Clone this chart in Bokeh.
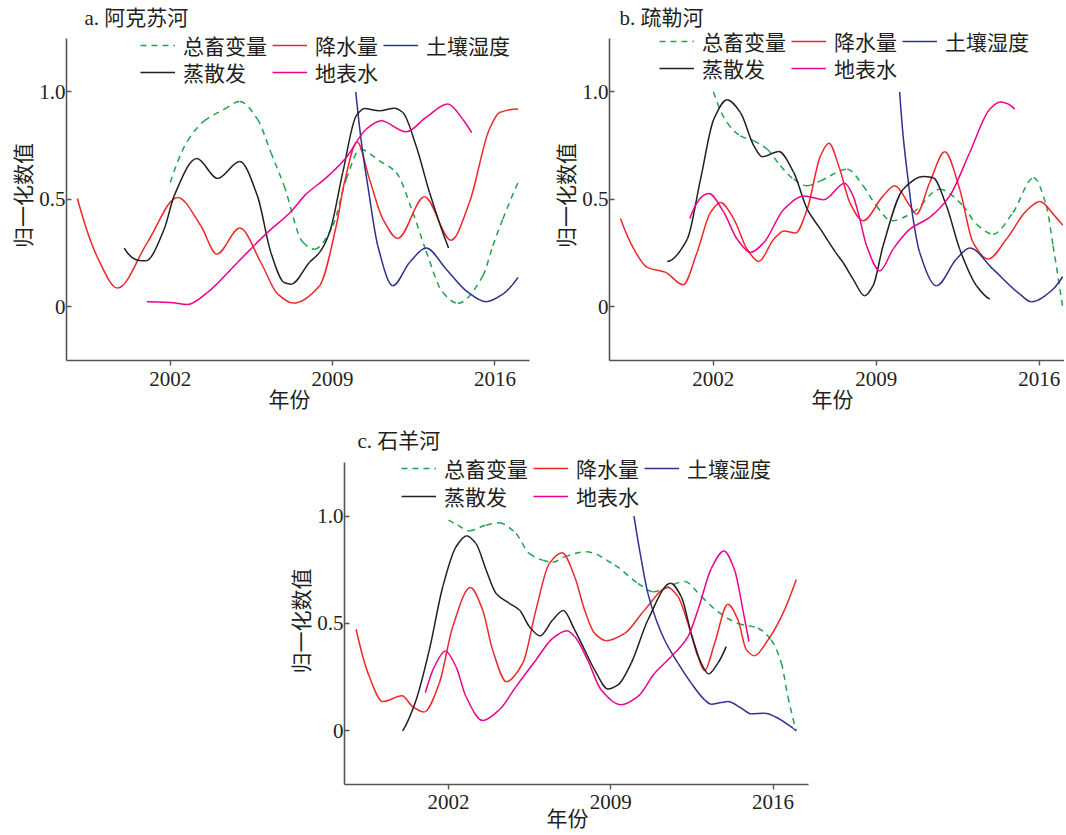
import numpy as np
from bokeh.plotting import figure
from bokeh.models import Range1d, FixedTicker, Legend, LegendItem, ColumnDataSource, Title, Spacer
from bokeh.layouts import row, column
from bokeh.embed import file_html
from bokeh.resources import INLINE

# ---------------- data ----------------
SERIES = ["总畜变量", "降水量", "土壤湿度", "蒸散发", "地表水"]
X_TICKS = [2002, 2009, 2016]
Y_TICKS = [0, 0.5, 1.0]
Y_TICK_LABELS = {0: "0", 0.5: "0.5", 1: "1.0"}
TITLES = ["a. 阿克苏河", "b. 疏勒河", "c. 石羊河"]
X_LABEL = "年份"
Y_LABEL = "归一化数值"

# panel a
a_liv_x = [2002.0, 2002.75, 2003.47, 2004.33, 2005.0, 2005.76, 2006.34, 2006.91, 2007.72, 2008.22, 2009.01, 2009.59, 2010.2, 2011.0, 2011.74, 2012.46, 2013.03, 2013.75, 2014.4, 2015.48, 2015.91, 2016.34, 2017.0]
a_liv_y = [0.578, 0.772, 0.865, 0.919, 0.955, 0.873, 0.718, 0.563, 0.30, 0.268, 0.377, 0.594, 0.733, 0.68, 0.625, 0.439, 0.26, 0.067, 0.016, 0.144, 0.284, 0.408, 0.58]
a_pre_x = [1998.0, 1998.87, 1999.73, 2001.02, 2002.32, 2003.32, 2004.01, 2005.0, 2005.91, 2006.63, 2007.3, 2008.44, 2009.16, 2009.51, 2010.06, 2010.59, 2011.17, 2011.81, 2012.96, 2014.11, 2014.9, 2015.76, 2016.2, 2017.0]
a_pre_y = [0.504, 0.229, 0.087, 0.30, 0.509, 0.377, 0.245, 0.366, 0.206, 0.06, 0.017, 0.098, 0.377, 0.578, 0.767, 0.594, 0.408, 0.318, 0.512, 0.31, 0.485, 0.826, 0.904, 0.92]
a_soil_x = [2010.0, 2010.3, 2010.52, 2010.95, 2011.6, 2012.32, 2013.03, 2013.9, 2014.76, 2015.62, 2016.34, 2017.0]
a_soil_y = [1.0, 0.718, 0.563, 0.284, 0.098, 0.206, 0.273, 0.175, 0.074, 0.023, 0.059, 0.137]
a_et_x = [2000.02, 2000.95, 2001.74, 2002.17, 2003.15, 2004.04, 2005.0, 2005.76, 2006.34, 2006.91, 2007.22, 2008.0, 2008.44, 2008.87, 2009.44, 2010.02, 2010.38, 2011.02, 2011.67, 2012.03, 2012.6, 2013.18, 2014.0]
a_et_y = [0.273, 0.214, 0.361, 0.516, 0.69, 0.597, 0.676, 0.516, 0.253, 0.113, 0.105, 0.206, 0.253, 0.346, 0.625, 0.888, 0.922, 0.912, 0.924, 0.904, 0.749, 0.532, 0.273]
a_sw_x = [2001.0, 2002.0, 2002.75, 2003.61, 2004.9, 2006.2, 2007.17, 2007.86, 2008.72, 2009.59, 2010.45, 2011.09, 2012.17, 2013.03, 2013.97, 2014.61, 2015.0]
a_sw_y = [0.023, 0.02, 0.011, 0.067, 0.206, 0.346, 0.439, 0.524, 0.60, 0.695, 0.826, 0.865, 0.814, 0.881, 0.943, 0.873, 0.81]

# panel b
b_liv_x = [2002.0, 2002.59, 2003.16, 2003.73, 2004.31, 2004.88, 2005.45, 2006.03, 2006.6, 2007.75, 2008.43, 2009.0, 2009.65, 2010.58, 2011.72, 2012.72, 2013.3, 2014.01, 2014.87, 2015.75, 2016.3, 2016.59, 2017.0]
b_liv_y = [1.0, 0.857, 0.795, 0.772, 0.733, 0.656, 0.594, 0.563, 0.586, 0.64, 0.563, 0.47, 0.40, 0.439, 0.547, 0.47, 0.384, 0.338, 0.439, 0.60, 0.47, 0.284, 0.0]
b_pre_x = [1998.01, 1998.59, 1999.16, 1999.95, 2000.7, 2001.3, 2001.88, 2002.31, 2002.88, 2003.45, 2003.95, 2004.6, 2005.03, 2005.53, 2006.03, 2006.6, 2006.96, 2007.43, 2007.86, 2008.43, 2009.29, 2009.79, 2010.44, 2010.72, 2011.29, 2011.94, 2012.58, 2013.15, 2013.8, 2014.59, 2015.44, 2016.02, 2016.66, 2017.0]
b_pre_y = [0.411, 0.268, 0.183, 0.16, 0.102, 0.253, 0.439, 0.485, 0.408, 0.268, 0.211, 0.315, 0.353, 0.343, 0.454, 0.702, 0.761, 0.64, 0.485, 0.40, 0.516, 0.563, 0.47, 0.431, 0.578, 0.721, 0.547, 0.30, 0.222, 0.315, 0.446, 0.49, 0.423, 0.38]
b_soil_x = [2010.0, 2010.15, 2010.36, 2010.58, 2010.86, 2011.58, 2012.44, 2013.01, 2014.01, 2015.16, 2015.66, 2016.59, 2017.0]
b_soil_y = [1.0, 0.795, 0.594, 0.408, 0.253, 0.098, 0.222, 0.273, 0.175, 0.059, 0.023, 0.082, 0.14]
b_et_x = [2000.02, 2000.88, 2001.45, 2002.02, 2002.59, 2003.16, 2003.74, 2004.1, 2004.81, 2005.45, 2006.03, 2006.6, 2007.25, 2007.57, 2008.0, 2008.5, 2008.86, 2009.29, 2010.15, 2011.0, 2011.44, 2012.01, 2012.58, 2013.3, 2013.87]
b_et_y = [0.211, 0.315, 0.594, 0.873, 0.963, 0.904, 0.749, 0.698, 0.722, 0.625, 0.454, 0.361, 0.253, 0.206, 0.129, 0.051, 0.098, 0.284, 0.547, 0.606, 0.60, 0.47, 0.268, 0.098, 0.036]
b_sw_x = [2000.99, 2001.81, 2002.45, 2003.02, 2003.6, 2004.17, 2005.03, 2005.89, 2006.74, 2007.64, 2008.0, 2008.29, 2008.58, 2009.15, 2009.72, 2010.44, 2011.29, 2012.15, 2013.01, 2013.87, 2014.3, 2014.94]
b_sw_y = [0.411, 0.527, 0.439, 0.315, 0.253, 0.299, 0.454, 0.516, 0.498, 0.575, 0.516, 0.408, 0.284, 0.167, 0.268, 0.361, 0.416, 0.516, 0.718, 0.919, 0.953, 0.919]

# panel c
c_liv_x = [2002.0, 2002.39, 2002.89, 2003.62, 2004.19, 2004.91, 2005.48, 2006.06, 2006.49, 2007.0, 2007.94, 2009.17, 2010.17, 2010.82, 2012.19, 2012.91, 2013.62, 2014.49, 2015.35, 2015.92, 2016.36, 2016.64, 2017.0]
c_liv_y = [0.981, 0.958, 0.932, 0.958, 0.969, 0.919, 0.826, 0.795, 0.785, 0.81, 0.834, 0.772, 0.687, 0.648, 0.695, 0.625, 0.555, 0.50, 0.478, 0.423, 0.315, 0.16, 0.0]
c_pre_x = [1998.01, 1998.58, 1999.16, 1999.99, 2000.45, 2000.95, 2001.6, 2002.18, 2002.94, 2003.47, 2003.9, 2004.5, 2005.2, 2005.77, 2006.35, 2006.9, 2007.44, 2007.87, 2008.3, 2008.81, 2009.6, 2010.46, 2011.47, 2011.9, 2012.33, 2012.76, 2013.05, 2013.48, 2014.05, 2014.49, 2014.85, 2015.2, 2015.78, 2016.36, 2017.0]
c_pre_y = [0.473, 0.253, 0.136, 0.163, 0.113, 0.088, 0.222, 0.485, 0.668, 0.563, 0.377, 0.229, 0.315, 0.563, 0.78, 0.829, 0.718, 0.563, 0.454, 0.42, 0.454, 0.563, 0.668, 0.625, 0.50, 0.346, 0.281, 0.408, 0.589, 0.516, 0.377, 0.35, 0.423, 0.532, 0.705]
c_soil_x = [2010.0, 2010.32, 2010.6, 2010.96, 2011.32, 2011.9, 2012.47, 2013.05, 2013.33, 2013.77, 2014.05, 2014.63, 2015.06, 2015.64, 2016.07, 2016.86, 2017.0]
c_soil_y = [1.0, 0.795, 0.64, 0.516, 0.423, 0.315, 0.222, 0.144, 0.124, 0.132, 0.136, 0.105, 0.079, 0.082, 0.067, 0.012, 0.0]
c_et_x = [2000.02, 2000.6, 2001.17, 2001.75, 2002.32, 2002.78, 2003.18, 2003.62, 2004.05, 2004.62, 2005.06, 2005.49, 2005.95, 2006.49, 2006.95, 2007.44, 2007.87, 2008.3, 2008.88, 2009.31, 2009.88, 2010.6, 2011.58, 2012.04, 2012.47, 2012.9, 2013.22, 2013.62, 2013.98]
c_et_y = [0.0, 0.144, 0.377, 0.671, 0.857, 0.909, 0.873, 0.749, 0.64, 0.594, 0.563, 0.485, 0.442, 0.516, 0.56, 0.47, 0.377, 0.284, 0.195, 0.214, 0.315, 0.516, 0.687, 0.625, 0.454, 0.315, 0.265, 0.315, 0.392]
c_sw_x = [2001.0, 2001.39, 2001.86, 2002.32, 2002.75, 2003.47, 2004.19, 2004.91, 2005.77, 2006.49, 2007.1, 2007.44, 2008.0, 2008.59, 2009.45, 2010.17, 2010.89, 2011.61, 2012.33, 2012.76, 2013.34, 2013.88, 2014.34, 2014.7, 2014.96]
c_sw_y = [0.178, 0.299, 0.372, 0.299, 0.16, 0.048, 0.098, 0.206, 0.33, 0.431, 0.466, 0.439, 0.33, 0.19, 0.121, 0.16, 0.268, 0.346, 0.439, 0.563, 0.757, 0.837, 0.749, 0.563, 0.416]

PANEL_DATA = [
    [(a_liv_x, a_liv_y), (a_pre_x, a_pre_y), (a_soil_x, a_soil_y), (a_et_x, a_et_y), (a_sw_x, a_sw_y)],
    [(b_liv_x, b_liv_y), (b_pre_x, b_pre_y), (b_soil_x, b_soil_y), (b_et_x, b_et_y), (b_sw_x, b_sw_y)],
    [(c_liv_x, c_liv_y), (c_pre_x, c_pre_y), (c_soil_x, c_soil_y), (c_et_x, c_et_y), (c_sw_x, c_sw_y)],
]

# ---------------- styles ----------------
STYLE = {
    "总畜变量": dict(color="#1fa34f", dash="6 5"),
    "降水量": dict(color="#f0262a", dash="solid"),
    "土壤湿度": dict(color="#2e3192", dash="solid"),
    "蒸散发": dict(color="#231f20", dash="solid"),
    "地表水": dict(color="#ec008c", dash="solid"),
}
NUM_FONT = "Liberation Serif"
CJK_FONT = "Liberation Serif, Noto Sans CJK SC"
AXIS_COLOR = "#555555"
TEXT_COLOR = "#231f20"


def smooth_segments(xs, ys):
    """Monotone cubic (PCHIP) curve through the read points, as Bezier segments."""
    x = np.asarray(xs, float)
    y = np.asarray(ys, float)
    h = np.diff(x)
    d = np.diff(y) / h
    n = len(x)
    m = np.zeros(n)
    for i in range(1, n - 1):
        if d[i - 1] * d[i] <= 0:
            m[i] = 0.0
        else:
            w1 = 2 * h[i] + h[i - 1]
            w2 = h[i] + 2 * h[i - 1]
            m[i] = (w1 + w2) / (w1 / d[i - 1] + w2 / d[i])

    def end_slope(h0, h1, d0, d1):
        s = ((2 * h0 + h1) * d0 - h0 * d1) / (h0 + h1)
        if np.sign(s) != np.sign(d0):
            s = 0.0
        elif np.sign(d0) != np.sign(d1) and abs(s) > abs(3 * d0):
            s = 3 * d0
        return s

    if n > 2:
        m[0] = end_slope(h[0], h[1], d[0], d[1])
        m[-1] = end_slope(h[-1], h[-2], d[-1], d[-2])
    else:
        m[:] = d[0]
    return dict(
        x0=x[:-1], y0=y[:-1], x1=x[1:], y1=y[1:],
        cx0=x[:-1] + h / 3, cy0=y[:-1] + m[:-1] * h / 3,
        cx1=x[1:] - h / 3, cy1=y[1:] - m[1:] * h / 3,
    )


def legend(items, loc, label_width=20):
    return Legend(items=items, location=loc, orientation="horizontal",
                  padding=0, margin=0, spacing=5, label_standoff=8,
                  glyph_width=35, glyph_height=22, label_height=22, label_width=label_width,
                  label_text_font=CJK_FONT, label_text_font_size="21px",
                  label_text_color=TEXT_COLOR,
                  border_line_color=None, background_fill_alpha=0)


def make_panel(idx, x_start, x_end, y_top, frame_w, frame_h, b_left, b_right, b_top, b_bottom,
               leg_x, leg_y1, leg_y2, title_offset, title_standoff, tick_standoff, xlab_standoff):
    p = figure(frame_width=frame_w, frame_height=frame_h,
               x_range=Range1d(x_start, x_end), y_range=Range1d(-0.25, y_top),
               output_backend="svg", toolbar_location=None,
               min_border_left=b_left, min_border_right=b_right,
               min_border_top=b_top, min_border_bottom=b_bottom)
    p.title = Title(text=TITLES[idx], align="left", offset=title_offset, standoff=title_standoff,
                    text_font=CJK_FONT, text_font_size="21px", text_font_style="normal",
                    text_color=TEXT_COLOR)
    p.outline_line_color = None
    p.xgrid.visible = False
    p.ygrid.visible = False

    items = []
    for name, (xs, ys) in zip(SERIES, PANEL_DATA[idx]):
        st = STYLE[name]
        src = ColumnDataSource(smooth_segments(xs, ys))
        r = p.bezier(x0="x0", y0="y0", x1="x1", y1="y1", cx0="cx0", cy0="cy0",
                     cx1="cx1", cy1="cy1", source=src, line_color=st["color"],
                     line_width=1.5, line_dash=st["dash"])
        items.append(LegendItem(label=name, renderers=[r]))

    p.add_layout(legend(items[:3], (leg_x, leg_y1)))
    p.add_layout(legend(items[3:], (leg_x, leg_y2), label_width=84))

    for ax in (p.xaxis, p.yaxis):
        ax.axis_line_color = AXIS_COLOR
        ax.axis_line_width = 1.6
        ax.major_tick_line_color = AXIS_COLOR
        ax.major_tick_line_width = 1.4
        ax.minor_tick_line_color = None
        ax.major_label_text_font = NUM_FONT
        ax.major_label_text_font_size = "21px"
        ax.major_label_text_color = TEXT_COLOR

    p.xaxis.ticker = FixedTicker(ticks=X_TICKS)
    p.xaxis.major_tick_out = 5
    p.xaxis.major_tick_in = 0
    p.xaxis.major_label_standoff = tick_standoff

    p.yaxis.ticker = FixedTicker(ticks=Y_TICKS)
    p.yaxis.bounds = (-0.25, 1.25)
    p.yaxis.major_label_overrides = Y_TICK_LABELS
    p.yaxis.major_tick_in = 5
    p.yaxis.major_tick_out = 0
    p.yaxis.major_label_standoff = 1
    p.yaxis.axis_label = Y_LABEL
    p.yaxis.axis_label_text_font = CJK_FONT
    p.yaxis.axis_label_text_font_size = "21px"
    p.yaxis.axis_label_text_font_style = "normal"
    p.yaxis.axis_label_text_color = TEXT_COLOR
    p.yaxis.axis_label_standoff = 0

    p.add_layout(Title(text=X_LABEL, align="left", offset=202, vertical_align="top",
                       standoff=xlab_standoff, text_font=CJK_FONT, text_font_size="21px",
                       text_font_style="normal", text_color=TEXT_COLOR), "below")
    return p


pa = make_panel(0, 1997.53, 2017.49, 1.2855, 463, 330, 66, 22, 30, 60,
                74, 300, 273, 18, 2, 6, -2)
pb = make_panel(1, 1997.54, 2017.08, 1.2855, 455, 330, 58, 0, 30, 60,
                50, 304, 277, 10, 2, 6, -2)
pc = make_panel(2, 1997.51, 2017.53, 1.273, 464, 327, 58, 20, 37, 50,
                57, 301, 273, 13, 10, 5, -10)

layout = column(row(pa, pb), row(Spacer(width=286, height=10), pc))

open("out.html", "w").write(file_html(layout, INLINE))
